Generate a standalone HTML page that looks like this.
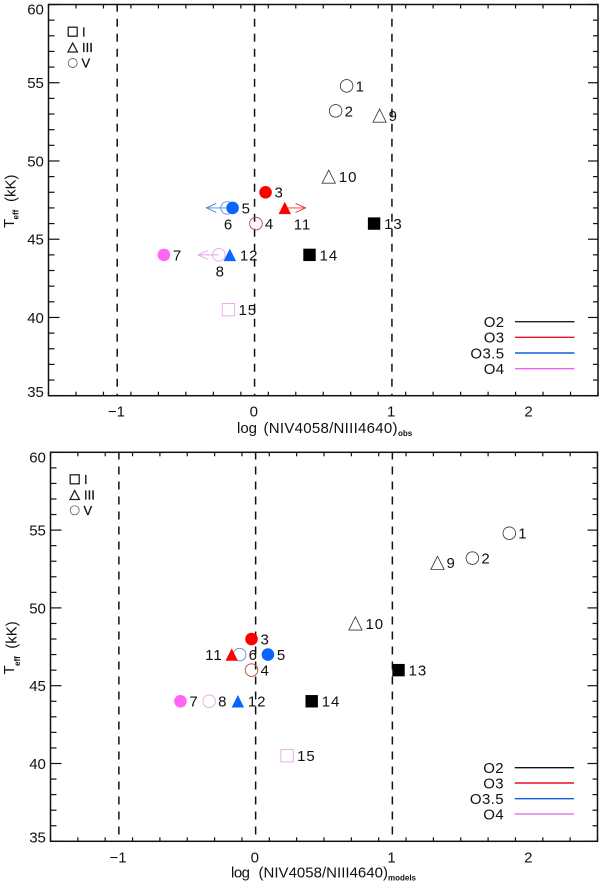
<!DOCTYPE html>
<html lang="en">
<head>
<meta charset="utf-8">
<title>Teff versus log NIV4058/NIII4640</title>
<style>
  html, body { margin: 0; padding: 0; background: #fff; }
  svg { display: block; font-family: "Liberation Sans", sans-serif; fill: #111; }
  .tick-text { font-size: 15px; }
  .point-text { font-size: 15px; }
  .key-text { font-size: 13px; stroke: #111; stroke-width: 0.25px; }
  .legend-text { font-size: 15px; text-anchor: end; letter-spacing: 0.4px; }
  .title-text { font-size: 15px; }
  .sub-text { font-size: 8px; font-weight: bold; }
</style>
</head>
<body>
<svg id="chart" xmlns="http://www.w3.org/2000/svg" width="600" height="883" viewBox="0 0 600 883">
  <g id="panel-top">
    <g>
      <rect x="68.2" y="27.2" width="9" height="9" fill="none" stroke="#222" stroke-width="1.3"/>
      <text class="key-text" x="82" y="36.3">I</text>
      <path d="M68 52 L72.7 43 L77.4 52 Z" fill="none" stroke="#222" stroke-width="1.3"/>
      <text class="key-text" x="82" y="52">III</text>
      <circle cx="72.7" cy="63" r="4.5" fill="none" stroke="#444" stroke-width="0.7"/>
      <text class="key-text" x="81.5" y="67.5">V</text>
    </g>
    <g>
      <text class="legend-text" x="504.5" y="327">O2</text>
      <line x1="515" x2="574.5" y1="321.7" y2="321.7" stroke="#222" stroke-width="1.4"/>
      <text class="legend-text" x="504.5" y="342.6">O3</text>
      <line x1="515" x2="574.5" y1="337.3" y2="337.3" stroke="#e81020" stroke-width="1.4"/>
      <text class="legend-text" x="504.5" y="358.3">O3.5</text>
      <line x1="515" x2="574.5" y1="353" y2="353" stroke="#1060e0" stroke-width="1.4"/>
      <text class="legend-text" x="504.5" y="374">O4</text>
      <line x1="515" x2="574.5" y1="368.7" y2="368.7" stroke="#f060f0" stroke-width="1.4"/>
    </g>
    <text class="title-text" x="237" y="433" textLength="20">log</text>
    <text class="title-text" x="263.5" y="433" textLength="134">(NIV4058/NIII4640)</text>
    <text class="sub-text" x="398" y="436">obs</text>
    <text class="title-text" transform="translate(14 228) rotate(-90)">T</text>
    <text class="sub-text" transform="translate(18.5 219.5) rotate(-90)">eff</text>
    <text class="title-text" transform="translate(15.5 202) rotate(-90)">(kK)</text>
  </g>
  <g id="panel-bottom">
    <g>
      <rect x="70.2" y="474.8" width="9" height="9" fill="none" stroke="#222" stroke-width="1.3"/>
      <text class="key-text" x="84" y="484">I</text>
      <path d="M70 499.5 L74.7 490.5 L79.4 499.5 Z" fill="none" stroke="#222" stroke-width="1.3"/>
      <text class="key-text" x="84" y="499.5">III</text>
      <circle cx="74.7" cy="510.3" r="4.5" fill="none" stroke="#444" stroke-width="0.7"/>
      <text class="key-text" x="83.5" y="515">V</text>
    </g>
    <g>
      <text class="legend-text" x="504" y="773">O2</text>
      <line x1="514.7" x2="574" y1="767.7" y2="767.7" stroke="#111" stroke-width="1.4"/>
      <text class="legend-text" x="504" y="788.4">O3</text>
      <line x1="514.7" x2="574" y1="783" y2="783" stroke="#e81020" stroke-width="1.4"/>
      <text class="legend-text" x="504" y="804">O3.5</text>
      <line x1="514.7" x2="574" y1="798.7" y2="798.7" stroke="#1060e0" stroke-width="1.4"/>
      <text class="legend-text" x="504" y="819.4">O4</text>
      <line x1="514.7" x2="574" y1="814" y2="814" stroke="#e080e0" stroke-width="1.4"/>
    </g>
    <text class="title-text" x="231" y="877.5" textLength="19">log</text>
    <text class="title-text" x="258.5" y="877.5" textLength="129.5">(NIV4058/NIII4640)</text>
    <text class="sub-text" x="388" y="880.5">models</text>
    <text class="title-text" transform="translate(14 674.5) rotate(-90)">T</text>
    <text class="sub-text" transform="translate(20 666) rotate(-90)">eff</text>
    <text class="title-text" transform="translate(16.5 648.8) rotate(-90)">(kK)</text>
  </g>
</svg>
<script>
const starIds = [1, 2, 3, 4, 5, 6, 7, 8, 9, 10, 11, 12, 13, 14, 15];
const teffValues = [54.8, 53.2, 48, 46, 47, 47, 44, 44, 52.9, 49, 47, 44, 46, 44, 40.5];
const logObserved = [0.67, 0.59, 0.08, 0.01, -0.16, -0.2, -0.66, -0.26, 0.91, 0.54, 0.22, -0.18, 0.87, 0.40, -0.19];
const logModels = [1.855, 1.585, -0.03, -0.03, 0.09, -0.117, -0.55, -0.34, 1.33, 0.73, -0.175, -0.13, 1.045, 0.41, 0.23];
const luminosityClass = ['V', 'V', 'V', 'V', 'V', 'V', 'V', 'V', 'III', 'III', 'III', 'III', 'I', 'I', 'I'];
const spectralType = ['O2', 'O2', 'O3', 'O3', 'O3.5', 'O3.5', 'O4', 'O4', 'O2', 'O2', 'O3', 'O3.5', 'O2', 'O2', 'O4'];
const isFilled = [false, false, true, false, true, false, true, false, false, false, true, true, true, true, false];
const observedLimit = [0, 0, 0, 0, 0, -1, 0, -1, 0, 0, 1, 0, 0, 0, 0];
const observedLabelSide = ['right', 'right', 'right', 'right', 'right', 'below', 'right', 'below', 'right', 'right', 'below-right', 'right', 'right', 'right', 'right'];
const modelLabelSide = ['right', 'right', 'right', 'right', 'right', 'right', 'right', 'right', 'right', 'right', 'left', 'right', 'right', 'right', 'right'];
const yMajorTicks = [60, 55, 50, 45, 40, 35];
const xMajorTicks = [-1, 0, 1, 2];
const xTickLabels = ['\u22121', '0', '1', '2'];
const referenceLines = [-1, 0, 1];

const filledColors = { 'O2': '#000000', 'O3': '#ff0000', 'O3.5': '#0a64ff', 'O4': '#ff66f5' };
const openColors = { 'O2': '#3a3a3a', 'O3': '#c03838', 'O3.5': '#4f86d8', 'O4': '#e8a0e8' };
const NS = 'http://www.w3.org/2000/svg';

function make(parent, tag, attrs, text) {
  const el = document.createElementNS(NS, tag);
  for (const key in attrs) el.setAttribute(key, attrs[key]);
  if (text !== undefined) el.textContent = text;
  parent.appendChild(el);
  return el;
}

function drawPanel(root, frame, xValues, labelSides, limits) {
  const xScale = v => frame.left + (v + 1.5) * (frame.right - frame.left) / 4;
  const yScale = v => frame.bottom - (v - 35) * (frame.bottom - frame.top) / 25;
  const ink = '#111';

  referenceLines.forEach(v => {
    const el = make(root, 'line', { x1: xScale(v), x2: xScale(v), y1: frame.top - 0.8, y2: frame.bottom, stroke: ink, 'stroke-width': 1.5, 'stroke-dasharray': '8 7' });
    
    
  });

  for (let step = 0; step <= 20; step++) {
    const v = -1.5 + step * 0.2;
    const isMajor = Math.abs(v - Math.round(v)) < 0.001;
    const len = isMajor ? 7.7 : 4;
    const bottomTick = make(root, 'line', { x1: xScale(v), x2: xScale(v), y1: frame.bottom, y2: frame.bottom - len, stroke: ink, 'stroke-width': 1.2 });
    
    
    const topTick = make(root, 'line', { x1: xScale(v), x2: xScale(v), y1: frame.top, y2: frame.top + len, stroke: ink, 'stroke-width': 1.2 });
    
    
  }

  for (let v = 35; v <= 60; v++) {
    const isMajor = v % 5 === 0;
    const leftTick = make(root, 'line', { x1: frame.left, x2: frame.left + (isMajor ? 11 : 6), y1: yScale(v), y2: yScale(v), stroke: ink, 'stroke-width': 1.2 });
    
    
    const rightTick = make(root, 'line', { x1: frame.right, x2: frame.right - (isMajor ? 10 : 5), y1: yScale(v), y2: yScale(v), stroke: ink, 'stroke-width': 1.2 });
    
    
  }

  yMajorTicks.forEach(v => {
    const centre = Math.min(frame.bottom - 4, Math.max(frame.top + 4.6, yScale(v)));
    const label = make(root, 'text', { class: 'tick-text', x: frame.left - 4.6, y: centre + 5.4, 'text-anchor': 'end' }, String(v));
    
    
  });

  xMajorTicks.forEach((v, i) => {
    const label = make(root, 'text', { class: 'tick-text', x: xScale(v) - 0.8, y: frame.bottom + 21, 'text-anchor': 'middle' }, xTickLabels[i]);
    
    
  });

  const frameRect = make(root, 'rect', { x: frame.left, y: frame.top, width: frame.right - frame.left, height: frame.bottom - frame.top, fill: 'none', stroke: ink, 'stroke-width': 1.5 });
  
  

  const order = starIds.map((_, i) => i).sort((a, b) => Number(isFilled[a]) - Number(isFilled[b]));
  order.forEach(i => {
    const cx = xScale(xValues[i]);
    const cy = yScale(teffValues[i]);
    const filled = isFilled[i];
    const colour = filled ? filledColors[spectralType[i]] : openColors[spectralType[i]];
    const limit = limits ? limits[i] : 0;

    if (limit !== 0) {
      const tip = cx + limit * 20.8;
      const arrowColour = openColors[spectralType[i]].replace('#c03838', '#f03030');
      const arrow = make(root, 'path', { d: 'M' + cx + ' ' + cy + ' L' + tip + ' ' + cy + ' M' + (tip - limit * 10) + ' ' + (cy - 4.5) + ' L' + tip + ' ' + cy + ' L' + (tip - limit * 10) + ' ' + (cy + 4.5), fill: 'none', stroke: arrowColour, 'stroke-width': 0.9 });
      
      
    }

    const style = filled ? { fill: colour, stroke: 'none' } : { fill: 'none', stroke: colour, 'stroke-width': 0.85 };
    let marker;
    if (luminosityClass[i] === 'V') {
      marker = make(root, 'circle', Object.assign({ cx: cx, cy: cy, r: 6.3 }, style));
    } else if (luminosityClass[i] === 'I') {
      marker = make(root, 'rect', Object.assign({ x: cx - 6.2, y: cy - 6.2, width: 12.4, height: 12.4 }, style));
    } else {
      const half = filled ? 6.2 : 6.6;
      marker = make(root, 'path', Object.assign({ d: 'M' + (cx - half) + ' ' + (cy + half) + ' L' + cx + ' ' + (cy - half) + ' L' + (cx + half) + ' ' + (cy + half) + ' Z' }, style));
    }
    
    

    const side = labelSides[i];
    let lx = cx + (starIds[i] > 9 ? 10 : 9);
    let ly = cy + 5.4;
    let anchor = 'start';
    if (side === 'below') { lx = cx + 1; ly = cy + 21.5; anchor = 'middle'; }
    if (side === 'below-right') { lx = cx + 17.7; ly = cy + 21.5; anchor = 'middle'; }
    if (side === 'left') { lx = cx - 9; anchor = 'end'; }
    const label = make(root, 'text', { class: 'point-text', x: lx, y: ly, 'text-anchor': anchor, 'letter-spacing': starIds[i] > 9 ? '1px' : '0' }, String(starIds[i]));
    
    
  });
}

drawPanel(document.getElementById('panel-top'), { left: 48.5, right: 598, top: 4.5, bottom: 395.7 }, logObserved, observedLabelSide, observedLimit);
drawPanel(document.getElementById('panel-bottom'), { left: 50.5, right: 597.5, top: 452.3, bottom: 841.3 }, logModels, modelLabelSide, null);
</script>
</body>
</html>
